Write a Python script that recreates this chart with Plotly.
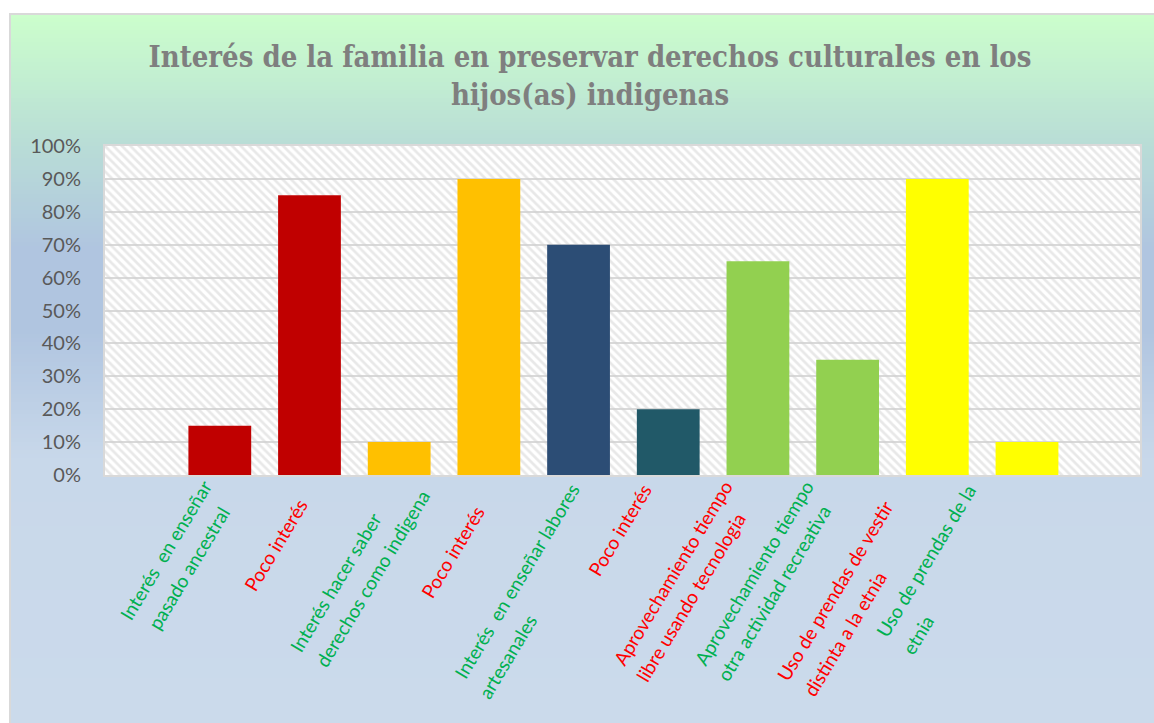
import plotly.graph_objects as go

# ---------------- data ----------------
labels = [
    "Interés  en enseñar<br>pasado ancestral",
    "Poco interés",
    "Interés hacer saber<br>derechos como indigena",
    "Poco interés",
    "Interés  en enseñar labores<br>artesanales",
    "Poco interés",
    "Aprovechamiento tiempo<br>libre usando tecnologia",
    "Aprovechamiento tiempo<br>otra actividad recreativa",
    "Uso de prendas de vestir<br>distinta a la etnia",
    "Uso de prendas de la<br>etnia",
]
label_colors = ["#00b050", "#ff0000", "#00b050", "#ff0000", "#00b050",
                "#ff0000", "#ff0000", "#00b050", "#ff0000", "#00b050"]
values = [0.15, 0.85, 0.10, 0.90, 0.70, 0.20, 0.65, 0.35, 0.90, 0.10]
bar_colors = ["#c00000", "#c00000", "#ffc000", "#ffc000", "#2c4d75",
              "#215968", "#92d050", "#92d050", "#ffff00", "#ffff00"]
title_text = "Interés de la familia en preservar derechos culturales en los<br>hijos(as) indigenas"

# ---------------- layout geometry ----------------
W, H = 1154, 723
ML, MR, MT, MB = 105, 14, 146, 248
PW, PH = W - ML - MR, H - MT - MB

# centre (page pixels) of each line of the rotated category labels (layout only)
label_line_centres_px = [
    [(165, 550), (188, 568)],
    [(275, 545)],
    [(335, 582), (372, 578)],
    [(452, 552)],
    [(516, 581), (507, 656)],
    [(619, 530)],
    [(672, 573), (690, 597)],
    [(753, 573), (773, 593)],
    [(834, 591), (844, 634)],
    [(925, 561), (917, 635)],
]
LABEL_ANGLE = -59


def px2paper_x(px):
    return (px - ML) / PW


def px2paper_y(py):
    return (H - MB - py) / PH


positions = list(range(len(labels)))

fig = go.Figure()

# hatched plot-area background
fig.add_trace(go.Bar(
    x=[0.5], y=[1.0], width=[1.0], xaxis="x", yaxis="y",
    marker=dict(color="rgba(0,0,0,0)", line=dict(width=0),
                pattern=dict(shape="\\", fgcolor="#d2d2d2", bgcolor="rgba(0,0,0,0)",
                             size=6, solidity=0.45)),
    hoverinfo="skip", showlegend=False,
))

# data bars
fig.add_trace(go.Bar(
    x=positions, y=values, width=0.70, xaxis="x2", yaxis="y",
    marker=dict(color=bar_colors, line=dict(width=0)),
    showlegend=False,
))

# gradient background strips (styling)
stops = [(14, (0xcc, 0xff, 0xcc)), (140, (0xb9, 0xde, 0xd6)), (250, (0xb0, 0xc5, 0xe0)),
         (330, (0xb0, 0xc5, 0xe0)), (460, (0xc8, 0xd8, 0xea)), (723, (0xcb, 0xda, 0xeb))]
shapes = []
step = 4
y = 14
while y < H:
    y2 = min(y + step, H + 2)
    mid = (y + y2) / 2
    col = stops[-1][1]
    for (a, ca), (b, cb) in zip(stops[:-1], stops[1:]):
        if a <= mid <= b:
            t = (mid - a) / (b - a)
            col = tuple(round(ca[i] + (cb[i] - ca[i]) * t) for i in range(3))
            break
    shapes.append(dict(type="rect", xref="paper", yref="paper", layer="below",
                       x0=px2paper_x(10), x1=px2paper_x(W + 60),
                       y0=px2paper_y(y2 + 0.5), y1=px2paper_y(y),
                       fillcolor="rgb(%d,%d,%d)" % col, line=dict(width=0)))
    y = y2
# white plot area
shapes.append(dict(type="rect", xref="paper", yref="paper", layer="below",
                   x0=0, x1=1, y0=0, y1=1, fillcolor="white", line=dict(width=0)))
# chart border (left and top edges visible)
shapes.append(dict(type="rect", xref="paper", yref="paper", layer="below",
                   x0=px2paper_x(10), x1=px2paper_x(W + 60),
                   y0=px2paper_y(H + 60), y1=px2paper_y(14),
                   fillcolor="rgba(0,0,0,0)", line=dict(color="#d9d9d9", width=2)))

annotations = []
for text, color, centres in zip(labels, label_colors, label_line_centres_px):
    for line, (cx, cy) in zip(text.split("<br>"), centres):
        annotations.append(dict(
            text=line, xref="paper", yref="paper", x=px2paper_x(cx), y=px2paper_y(cy),
            xanchor="center", yanchor="middle", textangle=LABEL_ANGLE,
            showarrow=False, borderpad=0,
            font=dict(family="Lato, Open Sans, sans-serif", size=19, color=color),
        ))

fig.update_layout(
    width=W, height=H,
    margin=dict(l=ML, r=MR, t=MT, b=MB),
    paper_bgcolor="white",
    plot_bgcolor="rgba(0,0,0,0)",
    barmode="overlay",
    shapes=shapes,
    annotations=annotations,
    title=dict(text=title_text, x=590 / W, xref="container", xanchor="center",
               y=1 - 67 / H, yref="container", yanchor="top",
               font=dict(family="DejaVu Serif Condensed, Liberation Serif, serif",
                         size=29, color="#7f7f7f", weight="bold")),
    xaxis=dict(range=[0, 1], visible=False, fixedrange=True),
    xaxis2=dict(overlaying="x", range=[-1.28, 10.26], showticklabels=False,
                tickvals=positions,
                showgrid=False, zeroline=False, showline=True, mirror=True,
                linecolor="#d9d9d9", linewidth=2, ticks=""),
    yaxis=dict(range=[0, 1], tickformat=".0%", dtick=0.1, tick0=0,
               showgrid=True, gridcolor="#d9d9d9", gridwidth=2,
               zeroline=False, showline=True, mirror=True,
               linecolor="#d9d9d9", linewidth=2, ticks="",
               ticklabelstandoff=18,
               tickfont=dict(family="Lato, Open Sans, sans-serif", size=20, color="#595959")),
    font=dict(family="Lato, Open Sans, sans-serif"),
)

fig.write_html(
    "out.html",
    config={"displayModeBar": False},
    post_script=("document.body.style.margin='0';document.body.style.overflow='hidden';"
                 "document.documentElement.style.overflow='hidden';"),
)
